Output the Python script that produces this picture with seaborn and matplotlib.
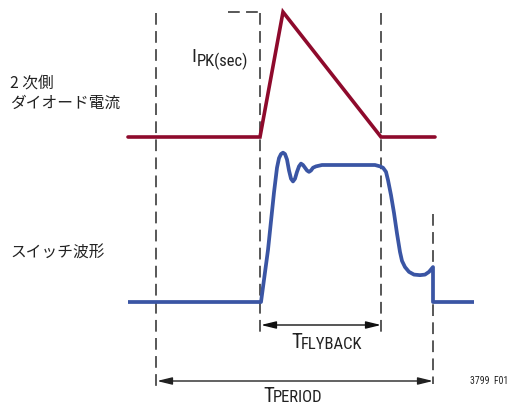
import matplotlib
matplotlib.use("Agg")
import matplotlib.pyplot as plt
from matplotlib import font_manager
import numpy as np
import pandas as pd
import seaborn as sns

# --- event times (horizontal units) ---
t_start = 156      # start of switching period
t_on = 260         # switch turns off / diode starts conducting
t_peak = 283       # diode current peak
t_off = 381        # end of flyback interval
t_end = 433        # end of switching period

# --- secondary diode current (normalised to I_PK) ---
diode_time = [128, t_on, t_peak, t_off, 435]
diode_current = [0.0, 0.0, 1.0, 0.0, 0.0]

# --- switch-node waveform (normalised to flyback plateau) ---
switch_time = [128, 261, 268, 274, 277, 279, 281, 283, 285, 287, 289, 291,
               293, 295, 297, 299, 301, 303, 305, 307, 309, 311, 313, 316,
               322, 340, 360, 375, 380, 383, 386, 388, 391, 394, 397, 400,
               402, 405, 409, 414, 420, 425, 429, 433, 433, 474]
switch_voltage = [0.0, 0.0, 0.38, 0.80, 0.98, 1.05, 1.08, 1.09, 1.08, 1.04,
                  0.96, 0.90, 0.88, 0.90, 0.95, 0.99, 1.01, 1.00, 0.98, 0.96,
                  0.95, 0.96, 0.98, 0.99, 1.00, 1.00, 1.00, 1.00, 0.99, 0.98,
                  0.95, 0.89, 0.78, 0.65, 0.50, 0.365, 0.30, 0.255, 0.22,
                  0.20, 0.196, 0.20, 0.22, 0.255, 0.0, 0.0]

# --- text ---
diode_label = "2 次側\nダイオード電流"
switch_label = "スイッチ波形"
peak_main, peak_sub = "I", "PK(sec)"
flyback_main, flyback_sub = "T", "FLYBACK"
period_main, period_sub = "T", "PERIOD"
fig_id = "3799  F01"

sns.set_theme(style="white")

available = {f.name for f in font_manager.fontManager.ttflist}
latin = next((f for f in ["Liberation Sans Narrow", "Roboto Condensed",
                          "Open Sans Condensed", "Liberation Sans"]
              if f in available), "DejaVu Sans")
cjk = ["Noto Sans CJK JP", "DejaVu Sans"]
plt.rcParams["font.family"] = [latin, "DejaVu Sans"]

RED = "#8e0a2c"
BLUE = "#3a55a4"
DASH = "#4a4a4a"

fig = plt.figure(figsize=(5.09, 4.04), dpi=100)
ax = fig.add_axes([0, 0, 1, 1])

# vertical placement of each trace
diode_base, diode_scale = 137, 125
switch_base, switch_scale = 302, 137

diode_df = pd.DataFrame({"t": diode_time,
                         "y": diode_base - diode_scale * np.array(diode_current)})
switch_df = pd.DataFrame({"t": switch_time,
                          "y": switch_base - switch_scale * np.array(switch_voltage)})

dash_kw = dict(color=DASH, lw=1.3, dashes=(6.5, 3.5))
ax.plot([t_start, t_start], [13, 388], **dash_kw)
ax.plot([t_on, t_on], [13, 337], **dash_kw)
ax.plot([t_off, t_off], [13, 337], **dash_kw)
ax.plot([t_end, t_end], [214, 384], **dash_kw)
ax.plot([228, t_on], [diode_base - diode_scale, diode_base - diode_scale], **dash_kw)

sns.lineplot(data=diode_df, x="t", y="y", sort=False, ax=ax, color=RED,
             lw=2.6, solid_joinstyle="miter", estimator=None)
sns.lineplot(data=switch_df, x="t", y="y", sort=False, ax=ax, color=BLUE,
             lw=2.7, solid_joinstyle="round", solid_capstyle="butt",
             estimator=None)
ax.set_xlim(0, 509)
ax.set_ylim(404, 0)
ax.axis("off")

arrow_kw = dict(arrowstyle="<|-|>,head_length=0.9,head_width=0.22",
                lw=1.0, shrinkA=0, shrinkB=0, mutation_scale=10)
ax.annotate("", xy=(t_on + 1, 325), xytext=(t_off, 325),
            arrowprops=dict(color="#111111", **arrow_kw))
ax.annotate("", xy=(t_start + 1, 381), xytext=(t_end, 381),
            arrowprops=dict(color="#222222", **arrow_kw))

# labels
ax.text(10, 93, diode_label, family=cjk, fontsize=11.3, color="#222222",
        ha="left", va="center", linespacing=1.25)
ax.text(10, 253, switch_label, family=cjk, fontsize=11.3, color="#222222",
        ha="left", va="center")

def sub_label(x, y, main, sub, size_main, size_sub, drop, gap):
    ax.text(x, y, main, fontsize=size_main, color="#222222",
            ha="left", va="baseline")
    ax.text(x + gap, y + drop, sub, fontsize=size_sub, color="#222222",
            ha="left", va="baseline")

sub_label(191, 62, peak_main, peak_sub, 14, 12, 4, 6)
sub_label(291, 348, flyback_main, flyback_sub, 15, 12, 1, 10)
sub_label(263, 401.5, period_main, period_sub, 15, 12, 1, 10)

ax.text(508, 381, fig_id, fontsize=7, color="#222222", ha="right",
        va="center")

fig.savefig("out.png", dpi=100)
